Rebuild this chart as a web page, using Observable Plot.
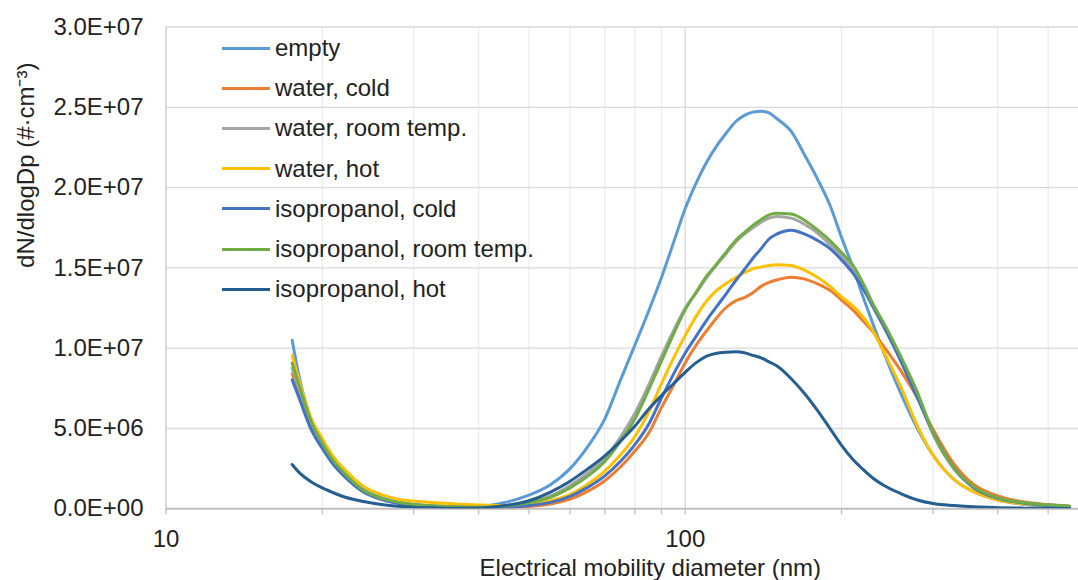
<!DOCTYPE html>
<html><head><meta charset="utf-8">
<script src="https://cdn.jsdelivr.net/npm/d3@7"></script>
<script src="https://cdn.jsdelivr.net/npm/@observablehq/plot@0.6"></script>
<style>
body{margin:0;background:#fff;}
#wrap{position:relative;width:1078px;height:580px;overflow:hidden;font-family:"Liberation Sans",Arial,sans-serif;}
.row{position:absolute;left:222px;height:30px;display:flex;align-items:center;font-size:24px;color:#222;white-space:nowrap;}
.sw{width:48px;height:3px;margin-right:5px;}
</style></head>
<body><div id="wrap"></div>
<script>
// Electrical mobility diameter (nm)
const diam = [17.5,18,19,20,21,22,24,26,28,30,33,36,40,45,50,55,60,65,70,75,80,85,90,95,100,105,110,115,120,125,130,135,140,145,150,160,170,180,190,200,210,220,230,240,260,280,300,330,360,400,450,500,550];
// dN/dlogDp in units of 1E+06 #/cm3
const empty = [10.5,8.4,5.6,4.2,3.1,2.3,1.2,0.7,0.42,0.28,0.17,0.12,0.15,0.4,0.85,1.5,2.5,3.9,5.6,8.0,10.2,12.3,14.4,16.6,18.7,20.3,21.6,22.6,23.4,24.1,24.5,24.7,24.75,24.65,24.3,23.5,22.0,20.5,18.9,16.9,15.1,13.2,11.5,9.9,7.2,5.0,3.35,1.8,1.05,0.55,0.28,0.16,0.1];
const waterCold = [8.4,7.3,5.2,3.9,2.9,2.15,1.1,0.6,0.36,0.24,0.14,0.1,0.07,0.08,0.15,0.3,0.6,1.1,1.75,2.6,3.6,4.7,6.3,7.7,9.1,10.2,11.1,11.9,12.55,12.95,13.15,13.45,13.85,14.1,14.25,14.42,14.3,14.0,13.6,13.0,12.4,11.7,11.0,10.2,8.6,6.9,4.95,2.75,1.5,0.8,0.42,0.26,0.15];
const waterRoom = [8.75,7.6,5.4,4.0,2.95,2.2,1.12,0.63,0.38,0.26,0.16,0.12,0.1,0.2,0.42,0.8,1.45,2.25,3.15,4.45,5.95,7.7,9.5,11.1,12.5,13.45,14.4,15.2,15.9,16.6,17.1,17.5,17.85,18.1,18.2,18.1,17.7,17.15,16.45,15.75,14.95,13.85,12.55,11.45,9.3,7.05,4.65,2.45,1.3,0.66,0.36,0.24,0.16];
const waterHot = [9.55,8.1,5.7,4.36,3.25,2.5,1.4,0.88,0.6,0.48,0.37,0.3,0.24,0.2,0.28,0.5,0.9,1.55,2.35,3.35,4.5,6.0,7.8,9.4,10.8,12.0,12.95,13.6,14.05,14.4,14.7,14.95,15.05,15.15,15.2,15.15,14.85,14.4,13.85,13.2,12.65,11.95,11.05,9.9,7.6,5.15,3.35,1.8,1.05,0.55,0.3,0.2,0.12];
const isoCold = [8.03,7.0,5.0,3.75,2.75,2.05,1.05,0.58,0.34,0.22,0.13,0.09,0.07,0.1,0.2,0.4,0.78,1.35,2.05,2.95,4.0,5.25,6.9,8.4,9.7,10.75,11.75,12.6,13.4,14.2,14.9,15.6,16.2,16.8,17.1,17.35,17.1,16.7,16.2,15.5,14.7,13.7,12.6,11.5,9.2,6.9,4.75,2.5,1.3,0.65,0.35,0.2,0.12];
const isoRoom = [9.07,7.8,5.5,4.1,3.0,2.25,1.15,0.65,0.4,0.27,0.17,0.12,0.1,0.18,0.38,0.72,1.3,2.05,2.95,4.2,5.6,7.4,9.2,10.9,12.4,13.5,14.5,15.25,16.0,16.7,17.2,17.65,18.0,18.3,18.4,18.35,17.95,17.35,16.7,15.95,15.2,14.05,12.75,11.7,9.5,7.25,4.75,2.5,1.35,0.68,0.38,0.25,0.18];
const isoHot = [2.76,2.3,1.7,1.3,1.0,0.75,0.45,0.27,0.16,0.1,0.06,0.04,0.05,0.2,0.5,1.04,1.72,2.5,3.3,4.2,5.15,6.2,7.05,7.8,8.5,9.1,9.5,9.68,9.75,9.78,9.72,9.55,9.4,9.15,8.9,8.1,7.15,6.1,5.0,3.95,3.1,2.45,1.9,1.5,0.95,0.55,0.33,0.2,0.12,0.07,0.04,0.02,0.01];

const seriesNames = ["empty","water, cold","water, room temp.","water, hot","isopropanol, cold","isopropanol, room temp.","isopropanol, hot"];
const seriesValues = [empty, waterCold, waterRoom, waterHot, isoCold, isoRoom, isoHot];
const colors = ["#5B9BD5","#ED7D31","#A5A5A5","#FFC000","#4472C4","#70AD47","#255E91"];
const yTicks = [0,5e6,1e7,1.5e7,2e7,2.5e7,3e7];
const xMajor = [10,100];
const xMinor = [20,30,40,50,60,70,80,90,200,300,400,500];
const xLabel = "Electrical mobility diameter (nm)";
const yLabel = "dN/dlogDp (#·cm⁻³)";

const fmt = d => {
  if (d === 0) return "0.0E+00";
  const e = Math.floor(Math.log10(d) + 1e-9);
  const m = d / Math.pow(10, e);
  return m.toFixed(1) + "E+" + String(e).padStart(2, "0");
};

const lineMarks = seriesNames.map((name, i) => {
  const rows = diam.map((x, j) => ({x, y: seriesValues[i][j] * 1e6, series: name}));
  return Plot.line(rows, {x: "x", y: "y", stroke: colors[i], strokeWidth: 3, curve: "monotone-x", clip: true});
});

const chart = Plot.plot({
  width: 1078, height: 580,
  marginLeft: 165.5, marginRight: 0, marginTop: 26.5, marginBottom: 71.7,
  x: {type: "log", domain: [10, 572]},
  y: {domain: [0, 3e7]},
  style: {fontFamily: '"Liberation Sans", Arial, sans-serif', fontSize: "24px", color: "#222", background: "#fff", overflow: "visible"},
  marks: [
    Plot.ruleX(xMinor, {stroke: "#ececec", strokeWidth: 1.3}),
    Plot.ruleX([100], {stroke: "#d9d9d9", strokeWidth: 1.3}),
    Plot.ruleY(yTicks.filter(d => d > 0), {stroke: "#d9d9d9", strokeWidth: 1.3}),
    Plot.ruleX([10], {stroke: "#cfcfcf", strokeWidth: 1.5}),
    Plot.axisX(xMajor.concat(xMinor), {tickSize: 6, tickFormat: () => "", stroke: "#bfbfbf", strokeWidth: 1.3, label: null}),
    Plot.axisX(xMajor, {tickSize: 0, tickPadding: 21, tickFormat: d => String(d), fill: "#222", label: null}),
    Plot.axisY(yTicks, {tickSize: 0, tickPadding: 22.5, tickFormat: fmt, fill: "#222", label: null}),
    Plot.ruleY([0], {stroke: "#bfbfbf", strokeWidth: 2}),
    ...lineMarks,
    Plot.text([xLabel], {frameAnchor: "bottom", lineAnchor: "middle", dx: 28, dy: 60, text: d => d, fontSize: 24, fill: "#222"}),
    Plot.text([yLabel], {frameAnchor: "left", lineAnchor: "middle", dx: -140, text: d => d, rotate: -90, fontSize: 24, fill: "#222"})
  ]
});

const wrap = document.getElementById("wrap");
wrap.appendChild(chart);
seriesNames.forEach((name, i) => {
  const row = document.createElement("div");
  row.className = "row";
  row.style.top = (48 + 40.2 * i - 15) + "px";
  const sw = document.createElement("span");
  sw.className = "sw";
  sw.style.background = colors[i];
  row.appendChild(sw);
  row.appendChild(document.createTextNode(name));
  wrap.appendChild(row);
});
</script></body></html>
